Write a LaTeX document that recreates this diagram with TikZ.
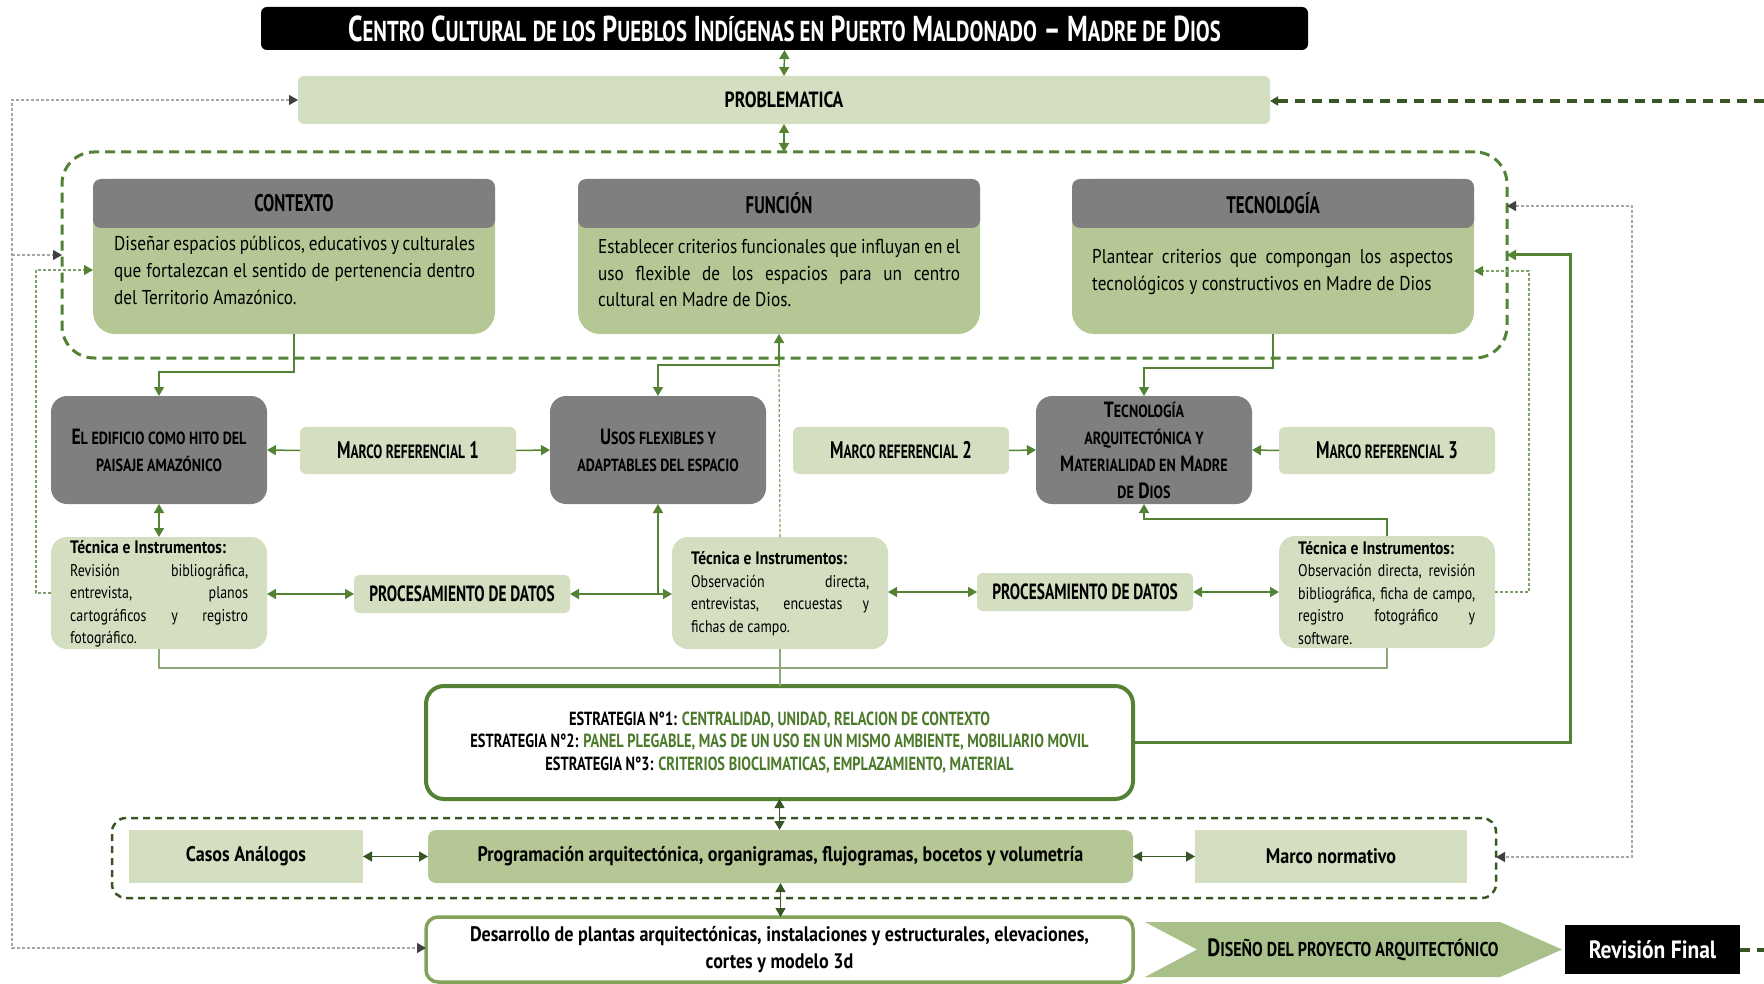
\documentclass[tikz,border=0pt]{standalone}
\usepackage{fontspec}
\setmainfont{PT Sans}[FakeStretch=0.70]
\newfontfamily\wf{PT Sans}[FakeStretch=0.86]
\newfontfamily\tf{PT Sans}[FakeStretch=0.82]
\newfontfamily\scf{PT Sans}[FakeStretch=0.80]
\newfontfamily\titf{PT Sans}[FakeStretch=0.72]
\newfontfamily\estf{PT Sans}[FakeStretch=0.76]
\usetikzlibrary{arrows.meta,calc}
\definecolor{lgreen}{HTML}{D4DEC0}
\definecolor{mgreen}{HTML}{B5C795}
\definecolor{hgray}{HTML}{7F7F7F}
\definecolor{agreen}{HTML}{548235}
\definecolor{dgreen}{HTML}{375623}
\definecolor{chev}{HTML}{A9C08B}
\definecolor{dborder}{HTML}{82A35A}
\definecolor{tgreen}{HTML}{4B7A2B}
\definecolor{dotgray}{HTML}{A6A6A6}
\definecolor{tipgray}{HTML}{404040}
\definecolor{thinc}{HTML}{8FA877}
\definecolor{pgreen}{HTML}{7EA06A}
\makeatletter
\newcommand\smc[1]{{\fontsize{\fpeval{0.8*\f@size}}{\f@baselineskip}\selectfont #1}}
\makeatother
\newcommand\jl[2]{\makebox[#1][s]{#2}}
\tikzset{
  box/.style={inner sep=0pt, outer sep=0pt, align=center},
  lbox/.style={box, fill=lgreen, rounded corners=6pt},
  gbox/.style={box, fill=hgray, rounded corners=16pt, minimum width=216pt, minimum height=108pt,
    font=\scf\fontsize{22}{27}\selectfont\bfseries},
  mref/.style={lbox, minimum width=216pt, minimum height=47pt, font=\fontsize{24}{28}\selectfont\bfseries},
  tecbox/.style={lbox, rounded corners=16pt, minimum width=216pt, minimum height=112pt},
  procbox/.style={lbox, rounded corners=5pt, minimum width=216pt, minimum height=38pt, font=\fontsize{22}{24}\selectfont\bfseries},
  cardbody/.style={box, fill=mgreen, rounded corners=22pt, minimum width=402pt, minimum height=155pt},
  cardhead/.style={box, fill=hgray, rounded corners=8pt, minimum width=402pt, minimum height=49pt, font=\fontsize{24}{26}\selectfont\bfseries},
  cardtext/.style={inner sep=0pt, anchor=west, align=left, font=\wf\fontsize{20}{27}\selectfont},
  tectext/.style={inner sep=0pt, anchor=west, align=left, font=\tf\fontsize{17}{22.5}\selectfont},
  wbox/.style={font=\wf\fontsize{21}{24}\selectfont\bfseries},
  conn/.style={draw=agreen, line width=1.5pt, -{Triangle[width=10pt,length=9pt]}},
  dconn/.style={draw=agreen, line width=1.5pt, {Triangle[width=10pt,length=9pt]}-{Triangle[width=10pt,length=9pt]}},
  ddconn/.style={draw=dgreen, line width=1.3pt, {Triangle[width=10pt,length=9pt]}-{Triangle[width=10pt,length=9pt]}},
  gdot/.style={draw=dotgray, line width=1.3pt, dash pattern=on 3pt off 2pt},
  gtip/.style={-{Triangle[width=10pt,length=9pt,color=tipgray]}},
  gtips/.style={{Triangle[width=10pt,length=9pt,color=tipgray]}-{Triangle[width=10pt,length=9pt,color=tipgray]}},
  pdot/.style={draw=pgreen, line width=1.2pt, dash pattern=on 3pt off 2pt, -{Triangle[width=10pt,length=9pt,color=agreen]}},
  pdotplain/.style={draw=pgreen, line width=1.2pt, dash pattern=on 3pt off 2pt},
  thinl/.style={draw=thinc, line width=1.2pt},
  bigdash/.style={draw=dgreen, line width=3.5pt, dash pattern=on 10pt off 7pt},
}
\begin{document}
\begin{tikzpicture}[x=1pt,y=-1pt]
\useasboundingbox (0,0) rectangle (1764,984);

% ---------- title and problem
\node[box, fill=black, rounded corners=6pt, minimum width=1047pt, minimum height=43pt, text=white,
  font=\titf\fontsize{36}{40}\selectfont\bfseries] (title) at (784.5,28.5)
  {C\smc{ENTRO} C\smc{ULTURAL} \smc{DE LOS} P\smc{UEBLOS} I\smc{NDÍGENAS EN} P\smc{UERTO} M\smc{ALDONADO} – M\smc{ADRE DE} D\smc{IOS}};
\node[lbox, minimum width=972pt, minimum height=48pt, font=\scf\fontsize{22}{24}\selectfont\bfseries] (prob) at (784,100) {PROBLEMATICA};

% ---------- big dashed group
\node[box, draw=agreen, line width=3pt, dash pattern=on 10pt off 6pt, rounded corners=32pt,
  minimum width=1445pt, minimum height=206pt] (grp) at (784.5,255) {};

% cards
\node[cardbody] (ctx) at (294,256.5) {};
\node[cardhead] (ctxh) at (294,203.5) {CONTEXTO};
\node[cardtext] (ctxt) at (114,270) {\jl{361pt}{Diseñar espacios públicos, educativos y culturales}\\
  \jl{361pt}{que fortalezcan el sentido de pertenencia dentro}\\ del Territorio Amazónico.};

\node[cardbody] (fun) at (779,256.5) {};
\node[cardhead] (funh) at (779,203.5) {FUNCIÓN};
\node[cardtext] (funt) at (598,273) {\jl{362pt}{Establecer criterios funcionales que influyan en el}\\
  \jl{362pt}{uso flexible de los espacios para un centro}\\ cultural en Madre de Dios.};

\node[cardbody] (tecc) at (1273,256.5) {};
\node[cardhead] (tech) at (1273,203.5) {TECNOLOGÍA};
\node[cardtext] (tect) at (1092,272) {\jl{361pt}{Plantear criterios que compongan los aspectos}\\
  tecnológicos y constructivos en Madre de Dios};

% ---------- row 2
\node[gbox] (edif) at (159,450) {E\smc{L EDIFICIO COMO HITO DEL}\\ \smc{PAISAJE AMAZÓNICO}};
\node[mref] (mr1) at (408,450.5) {M\smc{ARCO REFERENCIAL} 1};
\node[gbox] (usos) at (658,450) {U\smc{SOS FLEXIBLES Y}\\ \smc{ADAPTABLES DEL ESPACIO}};
\node[mref] (mr2) at (901,450.5) {M\smc{ARCO REFERENCIAL} 2};
\node[gbox] (tecb) at (1144,450) {T\smc{ECNOLOGÍA}\\ \smc{ARQUITECTÓNICA Y}\\ M\smc{ATERIALIDAD EN} M\smc{ADRE}\\ \smc{DE} D\smc{IOS}};
\node[mref] (mr3) at (1387,450.5) {M\smc{ARCO REFERENCIAL} 3};

% ---------- row 3
\node[tecbox] (tec1) at (159,593) {};
\node[tectext] (tec1t) at (70,594) {{\wf\fontsize{18}{22.5}\selectfont\bfseries Técnica e Instrumentos:}\\ \jl{178pt}{Revisión bibliográfica,}\\
  \jl{178pt}{entrevista, planos}\\ \jl{178pt}{cartográficos y registro}\\ fotográfico.};
\node[procbox] (proc1) at (462,594) {PROCESAMIENTO DE DATOS};
\node[tecbox] (tec2) at (780,593) {};
\node[tectext] (tec2t) at (691,593.5) {{\wf\fontsize{18}{22.5}\selectfont\bfseries Técnica e Instrumentos:}\\ \jl{178pt}{Observación directa,}\\
  \jl{178pt}{entrevistas, encuestas y}\\ fichas de campo.};
\node[procbox] (proc2) at (1085,592) {PROCESAMIENTO DE DATOS};
\node[tecbox] (tec3) at (1387,592) {};
\node[tectext] (tec3t) at (1298,593) {{\wf\fontsize{18}{22.5}\selectfont\bfseries Técnica e Instrumentos:}\\ \jl{177pt}{Observación directa, revisión}\\
  \jl{177pt}{bibliográfica, ficha de campo,}\\ \jl{177pt}{registro fotográfico y}\\ software.};

% ---------- strategy
\node[box, draw=agreen, line width=4pt, fill=white, rounded corners=18pt, minimum width=707pt, minimum height=113pt,
  font=\estf\fontsize{19}{22.5}\selectfont\bfseries] (estr) at (779.5,742.5)
  {ESTRATEGIA N°1: \textcolor{tgreen}{CENTRALIDAD, UNIDAD, RELACION DE CONTEXTO}\\
   ESTRATEGIA N°2: \textcolor{tgreen}{PANEL PLEGABLE, MAS DE UN USO EN UN MISMO AMBIENTE, MOBILIARIO MOVIL}\\
   ESTRATEGIA N°3: \textcolor{tgreen}{CRITERIOS BIOCLIMATICAS, EMPLAZAMIENTO, MATERIAL}};

% ---------- lower group
\node[box, draw=dgreen, line width=2.5pt, dash pattern=on 7pt off 5pt, rounded corners=14pt,
  minimum width=1384pt, minimum height=80pt] (low) at (804,858) {};
\node[box, wbox, fill=lgreen, minimum width=234pt, minimum height=53pt] (casos) at (246,856.5) {Casos Análogos};
\node[box, wbox, fill=mgreen, rounded corners=8pt, minimum width=705pt, minimum height=53pt] (prog) at (780.5,856.5)
  {Programación arquitectónica, organigramas, flujogramas, bocetos y volumetría};
\node[box, wbox, fill=lgreen, minimum width=272pt, minimum height=53pt] (mnorm) at (1331,856.5) {Marco normativo};

% ---------- bottom row
\node[box, draw=dborder, line width=3.5pt, fill=white, rounded corners=12pt, minimum width=707pt, minimum height=65pt,
  font=\wf\fontsize{21}{27}\selectfont\bfseries] (desa) at (779.5,949.5)
  {Desarrollo de plantas arquitectónicas, instalaciones y estructurales, elevaciones,\\ cortes y modelo 3d};
\fill[chev] (1145,922) -- (1500,922) -- (1562,949.5) -- (1500,977) -- (1145,977) -- (1197,949.5) -- cycle;
\node[box, font=\scf\fontsize{25}{28}\selectfont\bfseries] (dis) at (1353,950) {D\smc{ISEÑO DEL PROYECTO ARQUITECTÓNICO}};
\node[box, fill=black, minimum width=175pt, minimum height=49pt, text=white, font=\wf\fontsize{25}{28}\selectfont\bfseries] (rev) at (1652.5,949.5) {Revisión Final};

% ---------- connectors
\draw[dconn] (title.south) -- (prob.north);
\draw[dconn] (prob.south) -- (prob.south |- grp.north);

\draw[conn] (ctx.south) -- ++(0,38) -| (edif.north);
\coordinate (fj) at (779,365);
\draw[conn] (fj) -- (fun.south);
\draw[conn] (fj) -| (usos.north);
\draw[pdotplain] (tec2.north) -- (fj);
\draw[conn] (tecc.south) -- ++(0,34) -| (tecb.north);

\draw[conn] (mr1.west) -- (edif.east);
\draw[conn] (mr1.east) -- (usos.west);
\draw[conn] (mr2.east) -- (tecb.west);
\draw[conn] (mr3.west) -- (tecb.east);

\draw[dconn] (edif.south) -- (tec1.north);
\draw[dconn] (tec1.east |- proc1.west) -- (proc1.west);
\draw[dconn] (proc1.east) -- (tec2.west |- proc1.east);
\draw[conn] (usos.south |- proc1.east) -- (usos.south);
\draw[dconn] (tec2.east |- proc2.west) -- (proc2.west);
\draw[dconn] (proc2.east) -- (tec3.west |- proc2.east);
\draw[conn] (tec3.north) -- ++(0,-17) -| (tecb.south);

\draw[thinl] (tec1.south) -- ++(0,19) -| (tec3.south);
\draw[thinl] (tec2.south) -- (tec2.south |- estr.north);

\coordinate (r1) at (1570,255);
\draw[conn, line width=3pt] (estr.east) -| (r1) -- (grp.east |- r1);
\coordinate (r2a) at (1632,206);
\coordinate (r2b) at (1632,857);
\draw[gdot, gtips] (grp.east |- r2a) -- (r2a) -- (r2b) -- (low.east |- r2b);
\coordinate (r3) at (1529,271);
\draw[pdot] (tec3.east) -| (r3) -- (tecc.east |- r3);

\coordinate (l1) at (12,948);
\draw[gdot, gtips] (prob.west) -| (l1) -- (desa.west |- l1);
\coordinate (l2) at (12,255);
\draw[gdot, gtip] (l2) -- (grp.west |- l2);
\coordinate (l3) at (36,270);
\draw[pdot] (tec1.west) -| (l3) -- (ctx.west |- l3);

\coordinate (rt) at (1764,101);
\draw[bigdash, -{Triangle[width=9pt,length=8pt]}] (rt) -- (prob.east |- rt);
\coordinate (rb) at (1764,950);
\draw[bigdash] (rev.east |- rb) -- (rb);

\draw[ddconn] (estr.south) -- (estr.south |- prog.north);
\draw[ddconn] (prog.south) -- (prog.south |- desa.north);
\draw[ddconn] (casos.east) -- (prog.west);
\draw[ddconn] (prog.east) -- (mnorm.west);
\end{tikzpicture}
\end{document}
